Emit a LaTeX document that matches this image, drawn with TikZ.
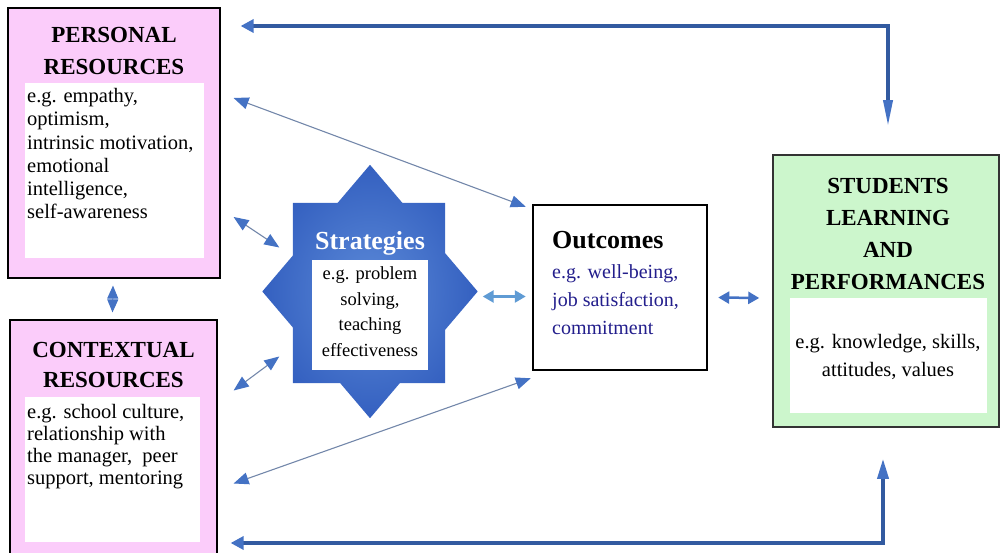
\documentclass[tikz,border=0pt]{standalone}
\usepackage{fontspec}
\setmainfont{Liberation Serif}
\usetikzlibrary{arrows.meta,shapes.geometric}

\definecolor{pinkfill}{RGB}{251,204,250}
\definecolor{greenfill}{RGB}{204,246,204}
\definecolor{starinner}{RGB}{92,138,216}
\definecolor{starouter}{RGB}{52,96,192}
\definecolor{headblue}{RGB}{68,114,196}
\definecolor{loopblue}{RGB}{50,90,160}
\definecolor{thingray}{RGB}{115,135,170}
\definecolor{lightblue}{RGB}{95,155,212}
\definecolor{navytext}{RGB}{35,30,140}

\tikzset{
  resbox/.style={draw=black, line width=1.2pt, fill=pinkfill},
  bodybox/.style={fill=white, inner sep=0pt},
  headtext/.style={font=\fontsize{23}{32}\selectfont\bfseries, align=center},
  bodytext/.style={font=\fontsize{20.5}{23.3}\selectfont, align=left, anchor=north west, inner sep=2pt},
  thinarrow/.style={draw=thingray, line width=1.1pt,
    {Triangle[length=15pt,width=12pt,color=headblue]}-{Triangle[length=15pt,width=12pt,color=headblue]}},
  shortarrow/.style={line width=2.5pt, {Triangle[length=11pt,width=12pt]}-{Triangle[length=11pt,width=12pt]}},
  loopline/.style={draw=loopblue, line width=3.5pt},
}

\begin{document}
\begin{tikzpicture}[x=1pt,y=-1pt]
  \useasboundingbox (0,0) rectangle (1001,553);
  \clip (0,0) rectangle (1001,553);

  % left boxes
  \node[resbox, minimum width=212pt, minimum height=270pt] (personal) at (114,143) {};
  \node[bodybox, minimum width=179pt, minimum height=175pt, anchor=north west] (pbody) at (25,83) {};
  \node[headtext] (ptitle) at (114,51.5) {PERSONAL\\RESOURCES};
  \node[bodytext] (ptext) at ([shift={(0,3)}]pbody.north west)
    {e.g. empathy,\\optimism,\\intrinsic motivation,\\emotional\\intelligence,\\self-awareness};

  \node[resbox, minimum width=207pt, minimum height=245pt] (contextual) at (113.5,442.5) {};
  \node[bodybox, minimum width=175pt, minimum height=145pt, anchor=north west] (cbody) at (25,397) {};
  \node[headtext, font=\fontsize{23}{30}\selectfont\bfseries] (ctitle) at (113.5,365) {CONTEXTUAL\\RESOURCES};
  \node[bodytext, font=\fontsize{20.5}{22}\selectfont] (ctext) at ([shift={(0,5)}]cbody.north west)
    {e.g. school culture,\\relationship with\\the manager,\ \ peer\\support, mentoring};

  % star
  \node[diamond, minimum width=215pt, minimum height=253pt, inner sep=0pt] (stardia) at (370,291.5) {};
  \node[minimum width=152pt, minimum height=180pt, inner sep=0pt] (starsq) at (369,293) {};
  \shade[inner color=starinner, outer color=starouter]
    (stardia.north) -- (stardia.east) -- (stardia.south) -- (stardia.west) -- cycle
    (starsq.north east) rectangle (starsq.south west);
  \node[font=\fontsize{26}{30}\selectfont\bfseries, text=white] (sttitle) at (370,243) {Strategies};
  \node[bodybox, minimum width=116pt, minimum height=110pt] (stbody) at (370,315) {};
  \node[font=\fontsize{18.5}{25.5}\selectfont, align=center] (sttext) at (370,311.5)
    {e.g. problem\\solving,\\teaching\\effectiveness};

  % outcomes
  \node[draw=black, line width=2.5pt, fill=white, minimum width=174pt, minimum height=165pt] (outcome) at (620,287.5) {};
  \node[font=\fontsize{26}{30}\selectfont\bfseries, anchor=west, inner sep=0pt] (outtitle) at (552,240) {Outcomes};
  \node[font=\fontsize{20}{28}\selectfont, text=navytext, align=left, anchor=west, inner sep=0pt] (outtext) at (552,300)
    {e.g. well-being,\\job satisfaction,\\commitment};

  % students
  \node[draw=black!80, line width=1.5pt, fill=greenfill, minimum width=226pt, minimum height=272pt] (students) at (886,291) {};
  \node[bodybox, minimum width=197pt, minimum height=115pt] (sbody) at (888.5,355.5) {};
  \node[headtext] (stitle) at (888,233.5) {STUDENTS\\LEARNING\\AND\\PERFORMANCES};
  \node[font=\fontsize{20.5}{28}\selectfont, align=center] (stext) at (888,357) {e.g. knowledge, skills,\\attitudes, values};

  % arrows
  \coordinate (topturn) at (888,26);
  \coordinate (botturn) at (883,543);
  \draw[loopline, {Triangle[length=13pt,width=13pt,color=headblue]}-{Triangle[length=26pt,width=9pt,color=headblue]},
    shorten <=20pt, shorten >=28pt] (personal.east |- topturn) -- (topturn) -- (topturn |- students.north);
  \draw[loopline, {Triangle[length=13pt,width=13pt,color=headblue]}-{Triangle[length=20pt,width=11pt,color=headblue]},
    shorten <=13pt, shorten >=31pt] (contextual.east |- botturn) -- (botturn) -- (botturn |- students.south);

  \draw[thinarrow] ([shift={(13,-45)}]personal.east) -- ([shift={(-6,3)}]outcome.north west);
  \draw[thinarrow] ([shift={(13,74)}]personal.east) -- ([shift={(17,-44)}]stardia.west);
  \draw[thinarrow] ([shift={(16,-52)}]contextual.east) -- ([shift={(17,65)}]stardia.west);
  \draw[thinarrow] ([shift={(16,41)}]contextual.east) -- ([shift={(-1,7)}]outcome.south west);

  \draw[shortarrow, draw=lightblue] ([shift={(5,5)}]stardia.east) -- ([shift={(-6,9)}]outcome.west);
  \draw[shortarrow, draw=headblue] ([shift={(10,10)}]outcome.east) -- ([shift={(-13,7)}]students.west);
  \draw[draw=headblue, line width=1pt, {Triangle[length=13pt,width=11pt]}-{Triangle[length=13pt,width=11pt]}]
    ([shift={(-1,7)}]personal.south) -- ([shift={(-1,-7)}]contextual.north);
\end{tikzpicture}
\end{document}
